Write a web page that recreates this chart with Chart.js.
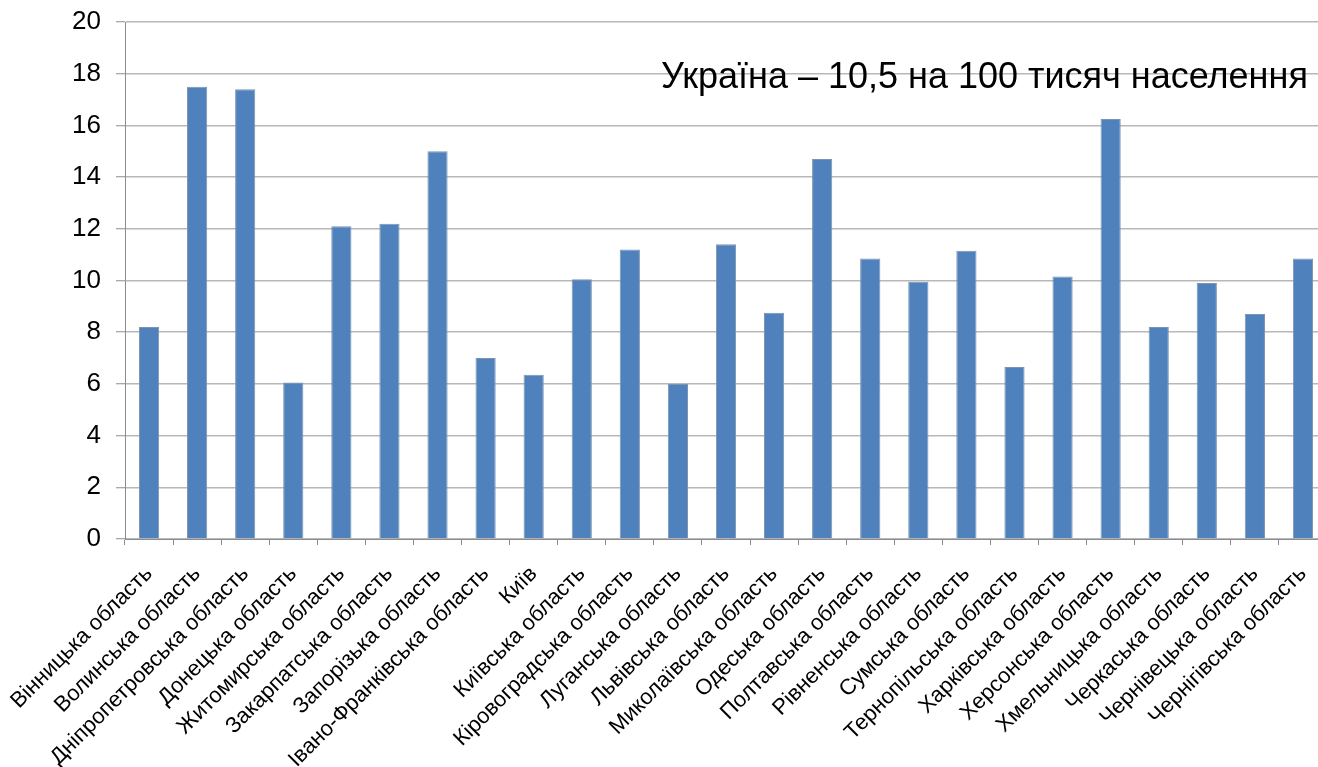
<!DOCTYPE html>
<html>
<head>
<meta charset="utf-8">
<script src="https://cdn.jsdelivr.net/npm/chart.js@4"></script>
<style>
  html, body { margin: 0; padding: 0; background: #fff; overflow: hidden; }
  #wrap { width: 1327px; height: 767px; position: relative; }
</style>
</head>
<body>
<div id="wrap"><canvas id="c"></canvas></div>
<script>
const categories = [
  "Вінницька область", "Волинська область", "Дніпропетровська область", "Донецька область",
  "Житомирська область", "Закарпатська область", "Запорізька область", "Івано-Франківська область",
  "Київ", "Київська область", "Кіровоградська область", "Луганська область",
  "Львівська область", "Миколаївська область", "Одеська область", "Полтавська область",
  "Рівненська область", "Сумська область", "Тернопільська область", "Харківська область",
  "Херсонська область", "Хмельницька область", "Черкаська область", "Чернівецька область",
  "Чернігівська область"
];
const values = [
  8.2, 17.5, 17.4, 6.05,
  12.1, 12.2, 15.0, 7.0,
  6.35, 10.05, 11.2, 6.0,
  11.4, 8.75, 14.7, 10.85,
  9.95, 11.15, 6.65, 10.15,
  16.25, 8.2, 9.9, 8.7,
  10.85
];
const yTicks = [0, 2, 4, 6, 8, 10, 12, 14, 16, 18, 20];
const annotationText = "Україна – 10,5 на 100 тисяч населення";

const FONT = "'Liberation Sans', Arial, sans-serif";

const notePlugin = {
  id: 'note',
  afterDraw(chart) {
    const ctx = chart.ctx;
    ctx.save();
    ctx.font = "36px " + FONT;
    ctx.fillStyle = "#000";
    ctx.textAlign = "left";
    ctx.textBaseline = "alphabetic";
    ctx.fillText(annotationText, 661, 88);
    ctx.restore();
  }
};

new Chart(document.getElementById('c'), {
  type: 'bar',
  data: {
    labels: categories,
    datasets: [{
      data: values,
      backgroundColor: '#4f81bd',
      borderColor: '#7d93b0',
      borderWidth: 1,
      barPercentage: 0.42,
      categoryPercentage: 1.0
    }]
  },
  options: {
    responsive: true,
    maintainAspectRatio: false,
    animation: false,
    layout: { padding: { top: 22, left: 0, right: 0, bottom: 0 } },
    plugins: {
      legend: { display: false },
      tooltip: { enabled: false },
      title: { display: false }
    },
    scales: {
      x: {
        offset: true,
        grid: {
          display: true,
          drawOnChartArea: false,
          offset: true,
          tickLength: 6,
          tickColor: '#8c8c8c',
          tickWidth: 1
        },
        border: { display: true, color: '#8c8c8c', width: 1 },
        ticks: {
          autoSkip: false,
          maxRotation: 45,
          minRotation: 45,
          padding: 16,
          color: '#000',
          font: { family: FONT, size: 22 }
        },
        afterFit(scale) {
          scale.height = 228;
          scale.paddingLeft = 0;
          scale.paddingRight = 0;
        }
      },
      y: {
        min: yTicks[0],
        max: yTicks[yTicks.length - 1],
        afterBuildTicks(scale) { scale.ticks = yTicks.map(v => ({ value: v })); },
        grid: {
          color: '#b8b8b8',
          lineWidth: 1.5,
          tickLength: 9,
          tickColor: '#8c8c8c',
          tickWidth: 1
        },
        border: { display: true, color: '#8c8c8c', width: 1 },
        ticks: {
          padding: 15,
          color: '#000',
          font: { family: FONT, size: 26 }
        },
        afterFit(scale) {
          scale.width = 125;
          scale.paddingTop = 0;
          scale.paddingBottom = 0;
        }
      }
    }
  },
  plugins: [notePlugin]
});
</script>
</body>
</html>
